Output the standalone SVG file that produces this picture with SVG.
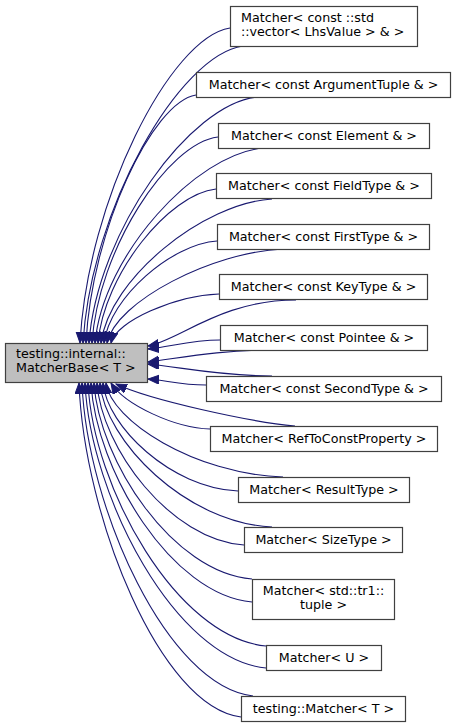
<svg xmlns="http://www.w3.org/2000/svg" width="456" height="727" viewBox="0 0 456 727">
<style>
.n rect{fill:#ffffff;stroke:#404040;stroke-width:1.2}
.n text{font-family:"DejaVu Sans",sans-serif;font-size:12.7px;fill:#000000;text-anchor:middle}
.e path{fill:none;stroke:#191970;stroke-width:1.1;marker-end:url(#ah)}
</style>
<defs>
<marker id="ah" markerUnits="userSpaceOnUse" markerWidth="14" markerHeight="12" refX="11" refY="4.5" orient="auto" viewBox="0 0 14 12">
<path d="M0,0 L11,4.5 L0,9 Z" fill="#191970" stroke="#191970" stroke-width="1"/>
</marker>
</defs>
<rect width="456" height="727" fill="#ffffff"/>
<g id="connectors" class="e">
<path d="M230,28 C170,37.5 87.5,201 80,343"/>
<path d="M243,46 C179,55 91,209 83,343"/>
<path d="M196,95 C152,102 91.5,231 86,343"/>
<path d="M257,97 C190,104 97,232 89,343"/>
<path d="M218,137 C167.6,143 98,250 92,343"/>
<path d="M263,148 C196,154 103,255 95,343"/>
<path d="M216,189 C169,194 104,274 98,343"/>
<path d="M272,199 C204,203 109.5,278 101,343"/>
<path d="M217,241 C172,244 110,297 104,343"/>
<path d="M283,249 C213,252 116,301 107,343"/>
<path d="M219,294 C176,295.5 116,321 111,343"/>
<path d="M296,300 C221,300 180,340 148,346"/>
<path d="M220,340 C190,340 170,347 148,349"/>
<path d="M272,350 C220,350 180,358 148,362"/>
<path d="M272,376 C220,376 180,367 148,364"/>
<path d="M206,385 C180,385 165,380 148,379"/>
<path d="M295,426 C250,422 150,400 116,384"/>
<path d="M210,429 C175,428 125,405 111,383"/>
<path d="M283,477 C194.5,474 111,420.6 106,383"/>
<path d="M238,491 C170.5,488 107,426 103,383"/>
<path d="M272,527 C186,523 105,441 100,383"/>
<path d="M244,545 C170.5,540 101.4,448 97,383"/>
<path d="M252,579 C173,573 99,461 94,383"/>
<path d="M252,602 C171.5,595 96,470.6 91,383"/>
<path d="M266,646 C177,638 93,488 88,383"/>
<path d="M266,668 C175.5,659.5 90.4,497 85,383"/>
<path d="M253,696 C167.5,686.6 87,508 82,383"/>
<path d="M241,717 C160,707 84,516.6 79,383"/>
</g>
<g id="base" class="n">
<rect x="5.5" y="343.5" width="142" height="39" style="fill:#bfbfbf"/>
<text x="16" y="358" style="text-anchor:start">testing::internal::</text>
<text x="16" y="372" style="text-anchor:start">MatcherBase&lt; T &gt;</text>
</g>
<g id="n1" class="n">
<rect x="230.5" y="6.5" width="187" height="40"/>
<text x="241" y="22" style="text-anchor:start">Matcher&lt; const ::std</text>
<text x="241" y="36" style="text-anchor:start">::vector&lt; LhsValue &gt; &amp; &gt;</text>
</g>
<g id="n2" class="n">
<rect x="196.5" y="72.5" width="254" height="25"/>
<text x="323.5" y="89">Matcher&lt; const ArgumentTuple &amp; &gt;</text>
</g>
<g id="n3" class="n">
<rect x="218.5" y="123.5" width="211" height="25"/>
<text x="324" y="140">Matcher&lt; const Element &amp; &gt;</text>
</g>
<g id="n4" class="n">
<rect x="216.5" y="173.5" width="215" height="25"/>
<text x="324" y="190">Matcher&lt; const FieldType &amp; &gt;</text>
</g>
<g id="n5" class="n">
<rect x="217.5" y="224.5" width="212" height="25"/>
<text x="323.5" y="241">Matcher&lt; const FirstType &amp; &gt;</text>
</g>
<g id="n6" class="n">
<rect x="219.5" y="274.5" width="208" height="25"/>
<text x="323.5" y="291">Matcher&lt; const KeyType &amp; &gt;</text>
</g>
<g id="n7" class="n">
<rect x="220.5" y="325.5" width="207" height="25"/>
<text x="324" y="342">Matcher&lt; const Pointee &amp; &gt;</text>
</g>
<g id="n8" class="n">
<rect x="206.5" y="376.5" width="235" height="25"/>
<text x="324" y="393">Matcher&lt; const SecondType &amp; &gt;</text>
</g>
<g id="n9" class="n">
<rect x="210.5" y="426.5" width="227" height="25"/>
<text x="324" y="443">Matcher&lt; RefToConstProperty &gt;</text>
</g>
<g id="n10" class="n">
<rect x="238.5" y="477.5" width="171" height="25"/>
<text x="324" y="494">Matcher&lt; ResultType &gt;</text>
</g>
<g id="n11" class="n">
<rect x="244.5" y="527.5" width="158" height="25"/>
<text x="323.5" y="544">Matcher&lt; SizeType &gt;</text>
</g>
<g id="n12" class="n">
<rect x="252.5" y="579.5" width="142" height="40"/>
<text x="323.5" y="595">Matcher&lt; std::tr1::</text>
<text x="323.5" y="609">tuple &gt;</text>
</g>
<g id="n13" class="n">
<rect x="266.5" y="645.5" width="115" height="25"/>
<text x="324" y="662">Matcher&lt; U &gt;</text>
</g>
<g id="n14" class="n">
<rect x="241.5" y="696.5" width="164" height="25"/>
<text x="323.5" y="713">testing::Matcher&lt; T &gt;</text>
</g>
</svg>
